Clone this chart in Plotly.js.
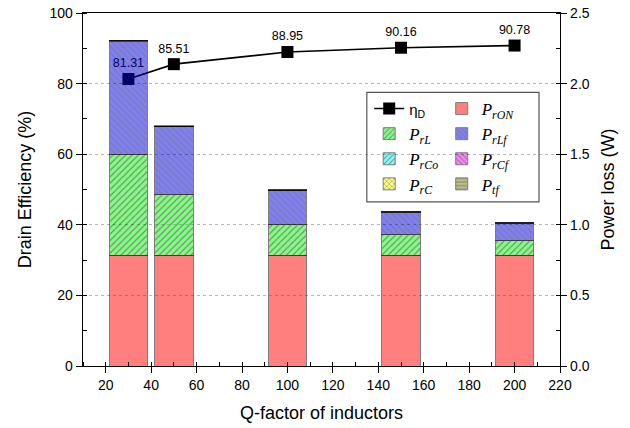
<!DOCTYPE html>
<html>
<head>
<meta charset="utf-8">
<script src="https://cdn.plot.ly/plotly-3.0.1.min.js"></script>
<style>html,body{margin:0;padding:0;background:#fff;}#chart{width:630px;height:428px;}</style>
</head>
<body>
<div id="chart"></div>
<script>
// Data
const qFactor = [30, 50, 100, 150, 200];
const drainEfficiency = [81.31, 85.51, 88.95, 90.16, 90.78];
const pRON = [0.785, 0.785, 0.785, 0.785, 0.785];
const pRL  = [0.715, 0.428, 0.215, 0.143, 0.105];
const pRLf = [0.800, 0.480, 0.242, 0.160, 0.120];
const pRCo = [0.002, 0.002, 0.002, 0.002, 0.002];
const pRCf = [0.002, 0.002, 0.002, 0.002, 0.002];
const pRC  = [0.002, 0.002, 0.002, 0.002, 0.002];
const pTf  = [0.002, 0.002, 0.002, 0.002, 0.002];
const xTicks = [20, 40, 60, 80, 100, 120, 140, 160, 180, 200, 220];
const yTicks = [0, 20, 40, 60, 80, 100];
const y2Ticks = [0, 0.5, 1.0, 1.5, 2.0, 2.5];

const barWidth = 17;
function barTrace(name, values, color, shape, legendId) {
  return {
    type: 'bar', x: qFactor, y: values, name: name, yaxis: 'y2',
    width: barWidth, opacity: 0.5, legend: legendId,
    marker: {
      color: color,
      line: {color: '#000', width: 1},
      pattern: shape ? {shape: shape, fgcolor: '#000', bgcolor: color, size: 4.5, solidity: 0.25, fillmode: 'replace'} : undefined
    }
  };
}
const lbl = s => '<i>P</i><sub><i>' + s + '</i></sub>';

const data = [
  {
    type: 'scatter', mode: 'lines+markers+text', x: qFactor, y: drainEfficiency,
    name: "<span style='font-family:Liberation Sans;font-style:normal;font-size:15px'>η<sub>D</sub></span>",
    line: {color: '#000', width: 1.6},
    marker: {symbol: 'square', size: 12, color: '#000'},
    texttemplate: '%{y:.2f}', textposition: 'top center',
    textfont: {family: 'Liberation Sans, Arial', size: 12.5, color: '#000'},
    legend: 'legend'
  },
  barTrace(lbl('rON'), pRON, '#FF0000', null, 'legend2'),
  barTrace(lbl('rL'), pRL, '#00FF00', '/', 'legend'),
  barTrace(lbl('rLf'), pRLf, '#0000FF', '\\', 'legend2'),
  barTrace(lbl('rCo'), pRCo, '#00FFFF', '/', 'legend'),
  barTrace(lbl('rCf'), pRCf, '#FF00FF', '\\', 'legend2'),
  barTrace(lbl('rC'), pRC, '#FFFF00', 'x', 'legend'),
  barTrace(lbl('tf'), pTf, '#808000', '-', 'legend2')
];

const tickFont = {family: 'Liberation Sans, Arial', size: 14, color: '#000'};
const titleFont = {family: 'Liberation Sans, Arial', size: 18, color: '#000'};
const legendCommon = {
  orientation: 'v', traceorder: 'normal', bgcolor: 'rgba(0,0,0,0)', borderwidth: 0,
  font: {family: 'Liberation Serif, Times New Roman', size: 17, color: '#000'},
  xanchor: 'left', yanchor: 'top', itemwidth: 30
};

const layout = {
  width: 630, height: 428,
  margin: {l: 83, r: 70, t: 13, b: 62},
  paper_bgcolor: '#fff', plot_bgcolor: '#fff',
  barmode: 'stack',
  showlegend: true,
  xaxis: {
    range: [10, 220], tickvals: xTicks, ticks: 'outside', ticklen: 6, tickwidth: 1, tickcolor: '#000',
    showline: true, linecolor: '#000', linewidth: 1.3, mirror: true, showgrid: false, zeroline: false,
    tickfont: tickFont,
    minor: {dtick: 10, tick0: 0, ticks: 'inside', ticklen: 4, tickcolor: '#000', showgrid: false},
    title: {text: 'Q-factor of inductors', font: titleFont, standoff: 14}
  },
  yaxis: {
    range: [0, 100], tickvals: yTicks, ticks: 'outside', ticklen: 6, tickwidth: 1, tickcolor: '#000',
    showline: true, linecolor: '#000', linewidth: 1.3, zeroline: false,
    showgrid: true, gridcolor: '#b5b5b5', gridwidth: 1, griddash: 'dot',
    tickfont: tickFont,
    minor: {dtick: 10, tick0: 0, ticks: 'inside', ticklen: 4, tickcolor: '#000', showgrid: false},
    title: {text: 'Drain Efficiency (%)', font: titleFont, standoff: 13}
  },
  yaxis2: {
    overlaying: 'y', side: 'right', range: [0, 2.5], tickvals: y2Ticks, tickformat: '.1f',
    ticks: 'outside', ticklen: 6, tickwidth: 1, tickcolor: '#000',
    showline: true, linecolor: '#000', linewidth: 1.3, zeroline: false, showgrid: false,
    tickfont: tickFont,
    minor: {dtick: 0.25, tick0: 0, ticks: 'inside', ticklen: 4, tickcolor: '#000', showgrid: false},
    title: {text: 'Power loss (W)', font: titleFont, standoff: 12}
  },
  legend: Object.assign({}, legendCommon, {x: 0.60, y: 0.779}),
  legend2: Object.assign({}, legendCommon, {x: 0.752, y: 0.779}),
  shapes: [{
    type: 'rect', xref: 'paper', yref: 'paper', x0: 0.595, x1: 0.956, y0: 0.465, y1: 0.775,
    line: {color: '#555', width: 1.2}, fillcolor: 'rgba(0,0,0,0)', layer: 'above'
  }]
};

Plotly.newPlot('chart', data, layout, {staticPlot: true, displayModeBar: false});
</script>
</body>
</html>
